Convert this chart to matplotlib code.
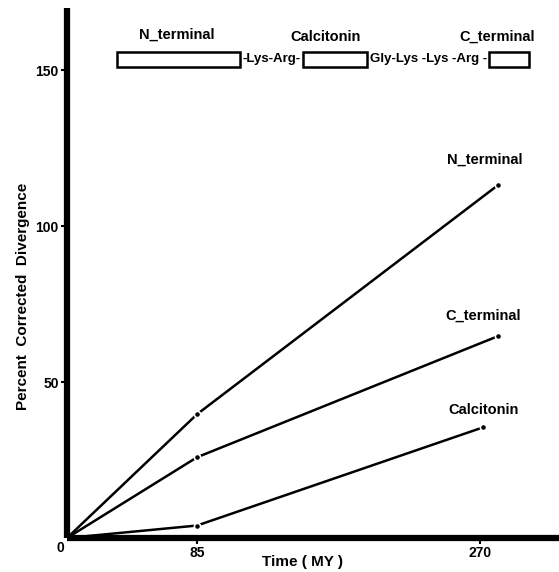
import matplotlib
matplotlib.use("Agg")
import matplotlib.pyplot as plt
from matplotlib.patches import Rectangle

plt.rcParams['font.family'] = ['Liberation Sans Narrow', 'Liberation Sans', 'DejaVu Sans']
plt.rcParams['font.weight'] = 'bold'

# Data (time in MY, percent corrected divergence)
time_n = [0, 85, 282]
n_terminal = [0, 39.7, 113.3]
time_c = [0, 85, 282]
c_terminal = [0, 25.9, 64.8]
time_cal = [0, 85, 272]
calcitonin = [0, 4.0, 35.5]

xticks = [85, 270]
xtick_labels = ['85', '270']
yticks = [50, 100, 150]
ytick_labels = ['50', '100', '150']

W, H = 559, 572
fig = plt.figure(figsize=(W / 100, H / 100), dpi=100)
x0px, y0px = 67, 538
ax = fig.add_axes([x0px / W, (H - y0px) / H, (W - x0px) / W, (y0px - 8) / H])
ax.set_xlim(0, (W - x0px) / 1.53)
ax.set_ylim(0, 170)

for side in ['top', 'right']:
    ax.spines[side].set_visible(False)
for side in ['left', 'bottom']:
    ax.spines[side].set_linewidth(4.5)
    ax.spines[side].set_capstyle('butt')

ax.set_xticks(xticks)
ax.set_xticklabels(xtick_labels)
ax.set_yticks(yticks)
ax.set_yticklabels(ytick_labels)
ax.tick_params(axis='both', direction='out', length=4, width=1.5, labelsize=10, pad=2)
ax.tick_params(axis='x', pad=2)
ax.text(-4.5, -3.3, '0', ha='center', va='center', fontsize=10, fontweight='bold')

series = [(time_n, n_terminal), (time_c, c_terminal), (time_cal, calcitonin)]
for tx, ty in series:
    ax.plot(tx, ty, color='black', lw=1.8, solid_capstyle='round', zorder=2)
    ax.plot(tx[1:], ty[1:], 'o', color='black', ms=4.5, mec='white', mew=1.2, zorder=3)

lab_kw = dict(fontsize=10.5, fontweight='bold', ha='center', va='center')
ax.text(273, 121.2, 'N_terminal', **lab_kw)
ax.text(272, 71.4, 'C_terminal', **lab_kw)
ax.text(272, 41.0, 'Calcitonin', **lab_kw)

ax.text(154, -7.7, 'Time ( MY )', fontsize=11, fontweight='bold', ha='center', va='center')
ax.set_ylabel('Percent  Corrected  Divergence', fontsize=11, fontweight='bold')
ax.yaxis.set_label_coords(-0.076, 0.455)

# Precursor diagram
yb, yt = 151, 156
boxes = [(33, 113), (154, 196), (276, 302)]
for a, b in boxes:
    ax.add_patch(Rectangle((a, yb), b - a, yt - yb, fill=False, lw=1.8, ec='black'))
ym = (yb + yt) / 2
ax.text(133.5, ym, '-Lys-Arg-', fontsize=9.5, fontweight='bold', ha='center', va='center')
ax.text(236, ym, 'Gly-Lys -Lys -Arg -', fontsize=9.5, fontweight='bold', ha='center', va='center')
ax.text(72, 161.3, 'N_terminal', **lab_kw)
ax.text(169, 160.7, 'Calcitonin', **lab_kw)
ax.text(281, 160.7, 'C_terminal', **lab_kw)

fig.savefig('out.png', dpi=100)
